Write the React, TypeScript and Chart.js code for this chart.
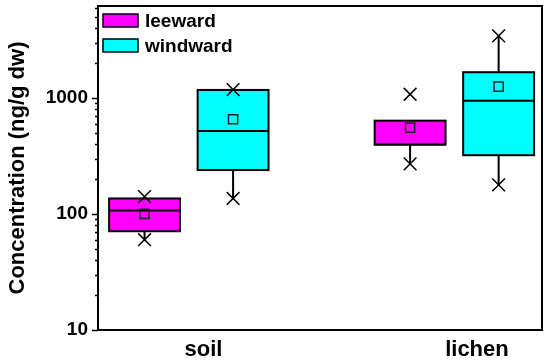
import React, { useEffect, useRef } from 'react';
import { Chart, registerables } from 'chart.js';
Chart.register(...registerables);

// ---- data ----
const categories = ['soil', 'lichen'];
const seriesNames = ['leeward', 'windward'];
const seriesColors = ['#ff00ff', '#00ffff'];

const leewardBoxLow = [71, 396];
const leewardBoxHigh = [136, 637];
const leewardMedian = [107, 396];
const leewardMean = [100, 555];
const leewardWhiskerLow = [60, 270];
const leewardWhiskerHigh = [136, 637];
const leewardMarkLow = [60, 270];
const leewardMarkHigh = [141, 1076];

const windwardBoxLow = [239, 321];
const windwardBoxHigh = [1172, 1666];
const windwardMedian = [520, 948];
const windwardMean = [655, 1250];
const windwardWhiskerLow = [136, 178];
const windwardWhiskerHigh = [1172, 3423];
const windwardMarkLow = [136, 178];
const windwardMarkHigh = [1180, 3423];

const yTickLabels = [10, 100, 1000];

// ---- layout ----
const FONT = 'Arial, "Liberation Sans", Helvetica, sans-serif';
const seriesOffsets = [-0.1667, 0.1667];
const boxWidth = 0.267;
const labelPositions = [1.055, 2.085];

const series = [
  {
    low: leewardBoxLow, high: leewardBoxHigh, med: leewardMedian, mean: leewardMean,
    wLow: leewardWhiskerLow, wHigh: leewardWhiskerHigh, mLow: leewardMarkLow, mHigh: leewardMarkHigh,
  },
  {
    low: windwardBoxLow, high: windwardBoxHigh, med: windwardMedian, mean: windwardMean,
    wLow: windwardWhiskerLow, wHigh: windwardWhiskerHigh, mLow: windwardMarkLow, mHigh: windwardMarkHigh,
  },
];

const xOf = (s: number, c: number) => c + 1 + seriesOffsets[s];

const boxPlugin = {
  id: 'boxes',
  beforeDatasetsDraw(chart: any) {
    const { ctx, scales } = chart;
    const x = scales.x, y = scales.y;
    ctx.save();
    series.forEach((sr, s) => {
      categories.forEach((_, c) => {
        const cx = x.getPixelForValue(xOf(s, c));
        const half = (x.getPixelForValue(xOf(s, c) + boxWidth / 2) - x.getPixelForValue(xOf(s, c) - boxWidth / 2)) / 2;
        const yl = y.getPixelForValue(sr.low[c]);
        const yh = y.getPixelForValue(sr.high[c]);
        const ym = y.getPixelForValue(sr.med[c]);
        ctx.strokeStyle = '#000';
        ctx.lineWidth = 2;
        ctx.beginPath();
        ctx.moveTo(cx, yl);
        ctx.lineTo(cx, y.getPixelForValue(sr.wLow[c]));
        ctx.moveTo(cx, yh);
        ctx.lineTo(cx, y.getPixelForValue(sr.wHigh[c]));
        ctx.stroke();
        ctx.fillStyle = seriesColors[s];
        ctx.fillRect(cx - half, yh, half * 2, yl - yh);
        ctx.strokeRect(cx - half, yh, half * 2, yl - yh);
        ctx.beginPath();
        ctx.moveTo(cx - half, ym);
        ctx.lineTo(cx + half, ym);
        ctx.stroke();
      });
    });
    ctx.restore();
  },
  afterDraw(chart: any) {
    const { ctx, chartArea: a, scales } = chart;
    const y = scales.y;
    ctx.save();
    ctx.strokeStyle = '#000';
    ctx.lineWidth = 2;
    ctx.strokeRect(a.left, a.top, a.right - a.left, a.bottom - a.top);
    y.ticks.forEach((t: any) => {
      const v = t.value;
      const p = Math.floor(Math.log10(v) + 1e-9);
      const m = v / Math.pow(10, p);
      if (Math.abs(m - Math.round(m)) > 1e-6) return;
      const major = Math.round(m) === 1;
      const py = Math.round(y.getPixelForValue(v)) + 0.5;
      ctx.lineWidth = 1.5;
      ctx.beginPath();
      ctx.moveTo(a.left, py);
      ctx.lineTo(a.left - (major ? 6 : 3), py);
      ctx.stroke();
    });
    const lx = 103;
    const rows = [21, 46];
    seriesNames.forEach((n, i) => {
      ctx.fillStyle = seriesColors[i];
      ctx.fillRect(lx, rows[i] - 7, 35, 13);
      ctx.strokeStyle = '#000';
      ctx.lineWidth = 1.5;
      ctx.strokeRect(lx, rows[i] - 7, 35, 13);
      ctx.fillStyle = '#000';
      ctx.font = `bold 19px ${FONT}`;
      ctx.textBaseline = 'middle';
      ctx.textAlign = 'left';
      ctx.fillText(n, lx + 42, rows[i] + 1);
    });
    ctx.restore();
  },
};

export default function App() {
  const ref = useRef<HTMLCanvasElement | null>(null);
  useEffect(() => {
    document.body.style.margin = '0';
    const datasets: any[] = [];
    series.forEach((sr, s) => {
      datasets.push({
        label: seriesNames[s] + ' mean',
        data: categories.map((_, c) => ({ x: xOf(s, c), y: sr.mean[c] })),
        pointStyle: 'rect',
        pointRadius: 6.5,
        backgroundColor: 'rgba(0,0,0,0)',
        borderColor: '#222',
        borderWidth: 1.5,
      });
      datasets.push({
        label: seriesNames[s] + ' range',
        data: categories.flatMap((_, c) => [
          { x: xOf(s, c), y: sr.mLow[c] },
          { x: xOf(s, c), y: sr.mHigh[c] },
        ]),
        pointStyle: 'crossRot',
        pointRadius: 9,
        borderColor: '#000',
        borderWidth: 1.5,
      });
    });
    const chart = new Chart(ref.current as HTMLCanvasElement, {
      type: 'scatter',
      data: { datasets },
      plugins: [boxPlugin],
      options: {
        animation: false,
        responsive: false,
        devicePixelRatio: 1,
        layout: { autoPadding: false, padding: { top: 6, right: 8, left: 0, bottom: 0 } },
        plugins: { legend: { display: false }, tooltip: { enabled: false } },
        scales: {
          x: {
            type: 'linear',
            min: 0.658,
            max: 2.33,
            afterBuildTicks: (s: any) => {
              s.ticks = labelPositions.map((v) => ({ value: v }));
            },
            afterFit: (s: any) => {
              s.height = 34;
              s.paddingLeft = 0;
              s.paddingRight = 0;
            },
            ticks: {
              autoSkip: false,
              maxRotation: 0,
              padding: 7,
              color: '#000',
              font: { family: FONT, size: 22, weight: 'bold' },
              callback: (_v: any, i: number) => categories[i],
            },
            grid: { display: false, drawTicks: false },
            border: { display: false },
          },
          y: {
            type: 'logarithmic',
            min: 10,
            max: 6200,
            afterFit: (s: any) => {
              s.width = 98;
              s.paddingTop = 0;
              s.paddingBottom = 0;
            },
            ticks: {
              autoSkip: false,
              padding: 10,
              color: '#000',
              font: { family: FONT, size: 19, weight: 'bold' },
              callback: (v: any) => (yTickLabels.includes(Number(v)) ? String(v) : ''),
            },
            title: {
              display: true,
              text: 'Concentration (ng/g dw)',
              color: '#000',
              font: { family: FONT, size: 22, weight: 'bold' },
              padding: { top: 5, bottom: 0 },
            },
            grid: { display: false, drawTicks: false },
            border: { display: false },
          },
        },
      },
    } as any);
    return () => chart.destroy();
  }, []);
  return (
    <div style={{ width: 550, height: 364, background: '#fff' }}>
      <canvas ref={ref} width={550} height={364} />
    </div>
  );
}
